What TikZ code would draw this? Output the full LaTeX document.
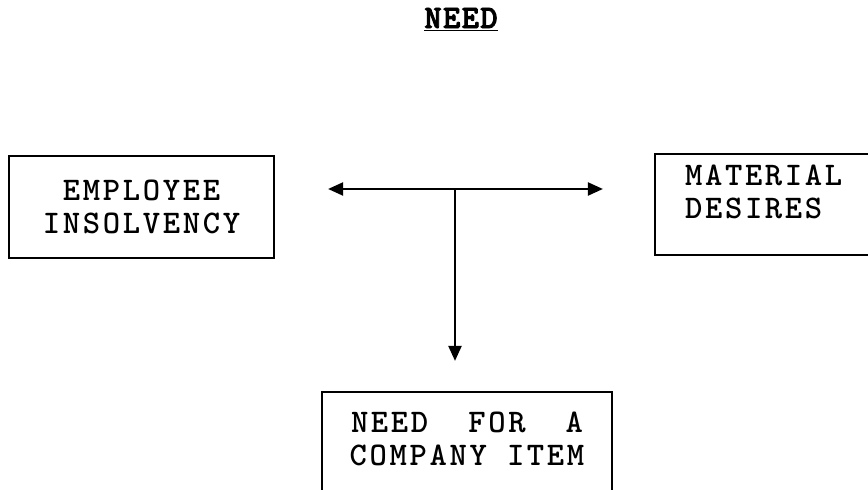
\documentclass[tikz,border=0pt]{standalone}
\usepackage{fontspec}
\newfontfamily\typfont{lmmonolt10-bold}[Extension=.otf, LetterSpace=8.1]
\newfontfamily\titlefont{lmmonolt10-bold}[Extension=.otf, LetterSpace=4, FakeBold=2.5]
\usetikzlibrary{arrows.meta}

\begin{document}
\begin{tikzpicture}[
	x=0.5pt,
	y=-0.5pt,
	arrow/.style={-{Triangle[length=7.5pt,width=6.5pt]}, line width=1.1pt},
	box/.style={draw, line width=1.1pt, inner sep=0pt},
	every node/.style={font=\typfont\fontsize{16.5}{16.4}\selectfont, align=center},
]

\path[use as bounding box, clip] (0,0) rectangle (868,490);

\node[font=\titlefont\fontsize{16.5}{16.4}\selectfont](title) at (461,20) {\underline{NEED}};

\node[box, minimum width=132.5pt, minimum height=51pt](emp) at (141.5,207) {EMPLOYEE\\INSOLVENCY};
\node[box, text width=90pt, inner xsep=15pt, align=left, minimum height=50.5pt](mat) at (775,204.5) {MATERIAL\\DESIRES\\[-3.5pt]\mbox{}};
\node[box, minimum width=145pt, minimum height=62.5pt](need) at (467,454.5) {NEED\ \ FOR\ \ A\\COMPANY ITEM\\[-1pt]\mbox{}};

% junction of the three arrows
\coordinate (jn) at (455,189);

\draw[arrow, shorten >=26.5pt] (jn) -- (jn -| emp.east);
\draw[arrow, shorten >=25.5pt] (jn) -- (jn -| mat.west);
\draw[arrow, shorten >=15pt] (jn) -- (jn |- need.north);
\end{tikzpicture}
\end{document}
